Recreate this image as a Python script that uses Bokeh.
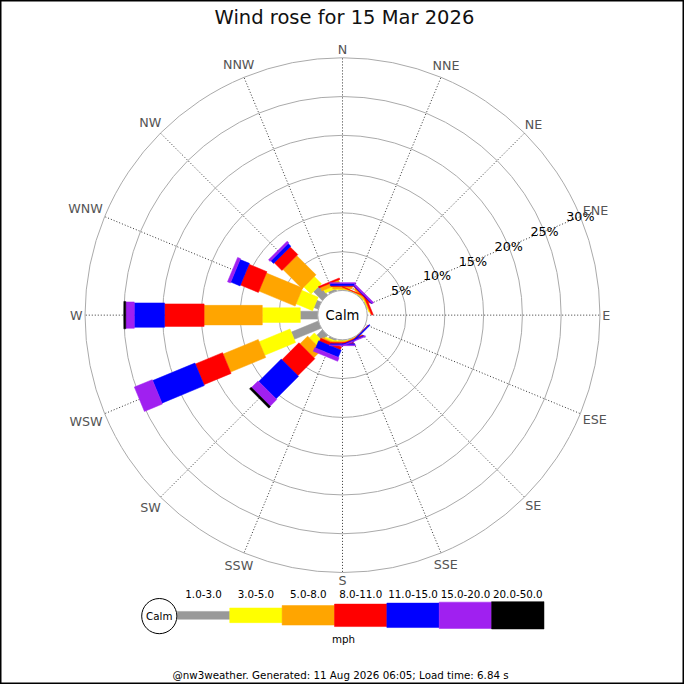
import numpy as np
from bokeh.plotting import figure
from bokeh.models import Range1d
from bokeh.core.properties import value
from bokeh.embed import file_html
from bokeh.resources import INLINE

# ---------------- data ----------------
title_text = "Wind rose for 15 Mar 2026"
footer_text = "@nw3weather. Generated: 11 Aug 2026 06:05; Load time: 6.84 s"
unit_text = "mph"
calm_text = "Calm"
directions = ["N", "NNE", "NE", "ENE", "E", "ESE", "SE", "SSE",
              "S", "SSW", "SW", "WSW", "W", "WNW", "NW", "NNW"]
speed_bins = ["1.0-3.0", "3.0-5.0", "5.0-8.0", "8.0-11.0",
              "11.0-15.0", "15.0-20.0", "20.0-50.0"]
bin_colors = ["#999999", "#ffff00", "#ffa500", "#ff0000",
              "#0000ff", "#a020f0", "#000000"]
# percent of observations per direction (N..NNW) for each speed bin
pct_1_3 = [0.1, 0.0, 0.1, 0.1, 0, 0, 0.05, 0.05, 0.1, 0.25, 1.0, 3.75, 2.25, 0.6, 1.6, 0.3]
pct_3_5 = [0.1, 0.05, 0.1, 0.1, 0, 0, 0, 0.05, 0.1, 0.2, 0.9, 4.3, 4.9, 2.3, 1.3, 0.4]
pct_5_8 = [0.3, 0.1, 0.2, 0.1, 0, 0, 0, 0.1, 0.15, 0.2, 1.4, 4.9, 7.5, 5.05, 3.5, 0.5]
pct_8_11 = [0.1, 0.05, 0.1, 0.2, 0, 0, 0.05, 0.1, 0.15, 0.4, 3.1, 3.8, 5.1, 2.5, 1.4, 0.2]
pct_11_15 = [0.3, 0, 0.1, 0, 0, 0, 0.15, 0.1, 0.15, 1.0, 4.1, 5.9, 3.9, 1.3, 0.5, 0]
pct_15_20 = [0.1, 0, 0.2, 0, 0, 0, 0, 0.1, 0.1, 0.5, 1.2, 2.5, 1.1, 0.4, 0.3, 0]
pct_20_50 = [0, 0, 0, 0, 0, 0, 0, 0, 0, 0, 0.3, 0, 0.25, 0, 0, 0]
ring_pcts = [5, 10, 15, 20, 25, 30]

# ---------------- layout / style ----------------
W = 684
S = W / 700.0
def fs(px):
    return f"{px * S:.1f}px"

R0 = 25.3        # calm circle radius (px)
K = 7.94         # px per percent
bar_widths = [8, 15, 20, 23, 25, 27, 28]
FONT = value("DejaVu Sans")

def rad(p):
    return R0 + K * np.asarray(p, dtype=float)

def Y(img_y):
    return 322.0 - img_y

def X(img_x):
    return img_x - 350.0

p = figure(width=W, height=W, output_backend="svg", toolbar_location=None,
           x_range=Range1d(-350, 350), y_range=Range1d(-378, 322),
           min_border=0, match_aspect=False)
p.axis.visible = False
p.grid.visible = False
p.background_fill_color = "white"
p.border_fill_color = "white"
p.outline_line_color = "black"
p.outline_line_width = 2

theta = np.deg2rad(np.arange(16) * 22.5)
ux, uy = np.sin(theta), np.cos(theta)

# rings
R_out = float(rad(ring_pcts[-1]))
p.circle(x=[0] * len(ring_pcts), y=[0] * len(ring_pcts), radius=list(rad(ring_pcts)),
         fill_color=None, line_color="#aaaaaa", line_width=1)
# rays
p.segment(x0=list(R0 * ux), y0=list(R0 * uy), x1=list(R_out * ux), y1=list(R_out * uy),
          line_color="#333333", line_width=1, line_dash="1 2")

# bars
series = [pct_1_3, pct_3_5, pct_5_8, pct_8_11, pct_11_15, pct_15_20, pct_20_50]
cum = np.zeros(16)
xs, ys, cols = [], [], []
for b, vals in enumerate(series):
    vals = np.asarray(vals, dtype=float)
    r_a = rad(cum)
    r_b = rad(cum + vals)
    hw = bar_widths[b] / 2.0
    for i in range(16):
        if vals[i] <= 0:
            continue
        vx, vy = np.cos(theta[i]), -np.sin(theta[i])
        px_ = [r_a[i] * ux[i] + hw * vx, r_b[i] * ux[i] + hw * vx,
               r_b[i] * ux[i] - hw * vx, r_a[i] * ux[i] - hw * vx]
        py_ = [r_a[i] * uy[i] + hw * vy, r_b[i] * uy[i] + hw * vy,
               r_b[i] * uy[i] - hw * vy, r_a[i] * uy[i] - hw * vy]
        xs.append(px_)
        ys.append(py_)
        cols.append(bin_colors[b])
    cum = cum + vals
p.patches(xs=xs, ys=ys, fill_color=cols, line_color=cols, line_width=0.5)

# calm circle
p.circle(x=[0], y=[0], radius=R0, fill_color="white", line_color="#aaaaaa", line_width=1)
p.text(x=[0], y=[0], text=[calm_text], text_font=FONT, text_font_size=fs(13.5),
       text_align="center", text_baseline="middle", text_color="black")

# ring labels along ENE ray
ang = np.deg2rad(67.5)
rr = rad(ring_pcts)
p.text(x=list(rr * np.sin(ang)), y=list(rr * np.cos(ang)),
       text=[f"{v}%" for v in ring_pcts], text_font=FONT, text_font_size=fs(13),
       text_align="center", text_baseline="middle", text_color="black")

# direction labels
cw = {"N": 9.7, "E": 8.0, "S": 8.3, "W": 12.9}
lx, ly = [], []
for i, d in enumerate(directions):
    w = sum(cw[c] for c in d)
    r_l = 266 + (w / 2) * abs(ux[i]) + 6 * abs(uy[i])
    lx.append(r_l * ux[i])
    ly.append(r_l * uy[i])
p.text(x=lx, y=ly, text=directions, text_font=FONT, text_font_size=fs(13),
       text_align="center", text_baseline="middle", text_color="#555555")

# title and footer
p.text(x=[X(352)], y=[Y(17)], text=[title_text], text_font=FONT, text_font_size=fs(20),
       text_align="center", text_baseline="middle", text_color="#111111")
p.text(x=[X(348)], y=[Y(690)], text=[footer_text], text_font=FONT, text_font_size=fs(10.5),
       text_align="center", text_baseline="middle", text_color="black")

# legend
leg_x0, leg_dx, leg_yc = 181.0, 53.6, 629.2
lefts = [X(leg_x0 + i * leg_dx) for i in range(len(speed_bins))]
rights = [X(leg_x0 + (i + 1) * leg_dx) for i in range(len(speed_bins))]
tops = [Y(leg_yc) + h / 2 for h in bar_widths]
bottoms = [Y(leg_yc) - h / 2 for h in bar_widths]
p.quad(left=lefts, right=rights, top=tops, bottom=bottoms,
       fill_color=bin_colors, line_color=bin_colors, line_width=0.5)
p.text(x=[(l + r) / 2 for l, r in zip(lefts, rights)], y=[Y(607)] * len(speed_bins),
       text=speed_bins, text_font=FONT, text_font_size=fs(10.5),
       text_align="center", text_baseline="middle", text_color="black")
p.text(x=[X(351)], y=[Y(653)], text=[unit_text], text_font=FONT, text_font_size=fs(10.5),
       text_align="center", text_baseline="middle", text_color="black")
p.circle(x=[X(162.5)], y=[Y(630)], radius=18, fill_color="white", line_color="black", line_width=1)
p.text(x=[X(162.5)], y=[Y(630)], text=[calm_text], text_font=FONT, text_font_size=fs(10.5),
       text_align="center", text_baseline="middle", text_color="black")

open("out.html", "w").write(file_html(p, INLINE))
